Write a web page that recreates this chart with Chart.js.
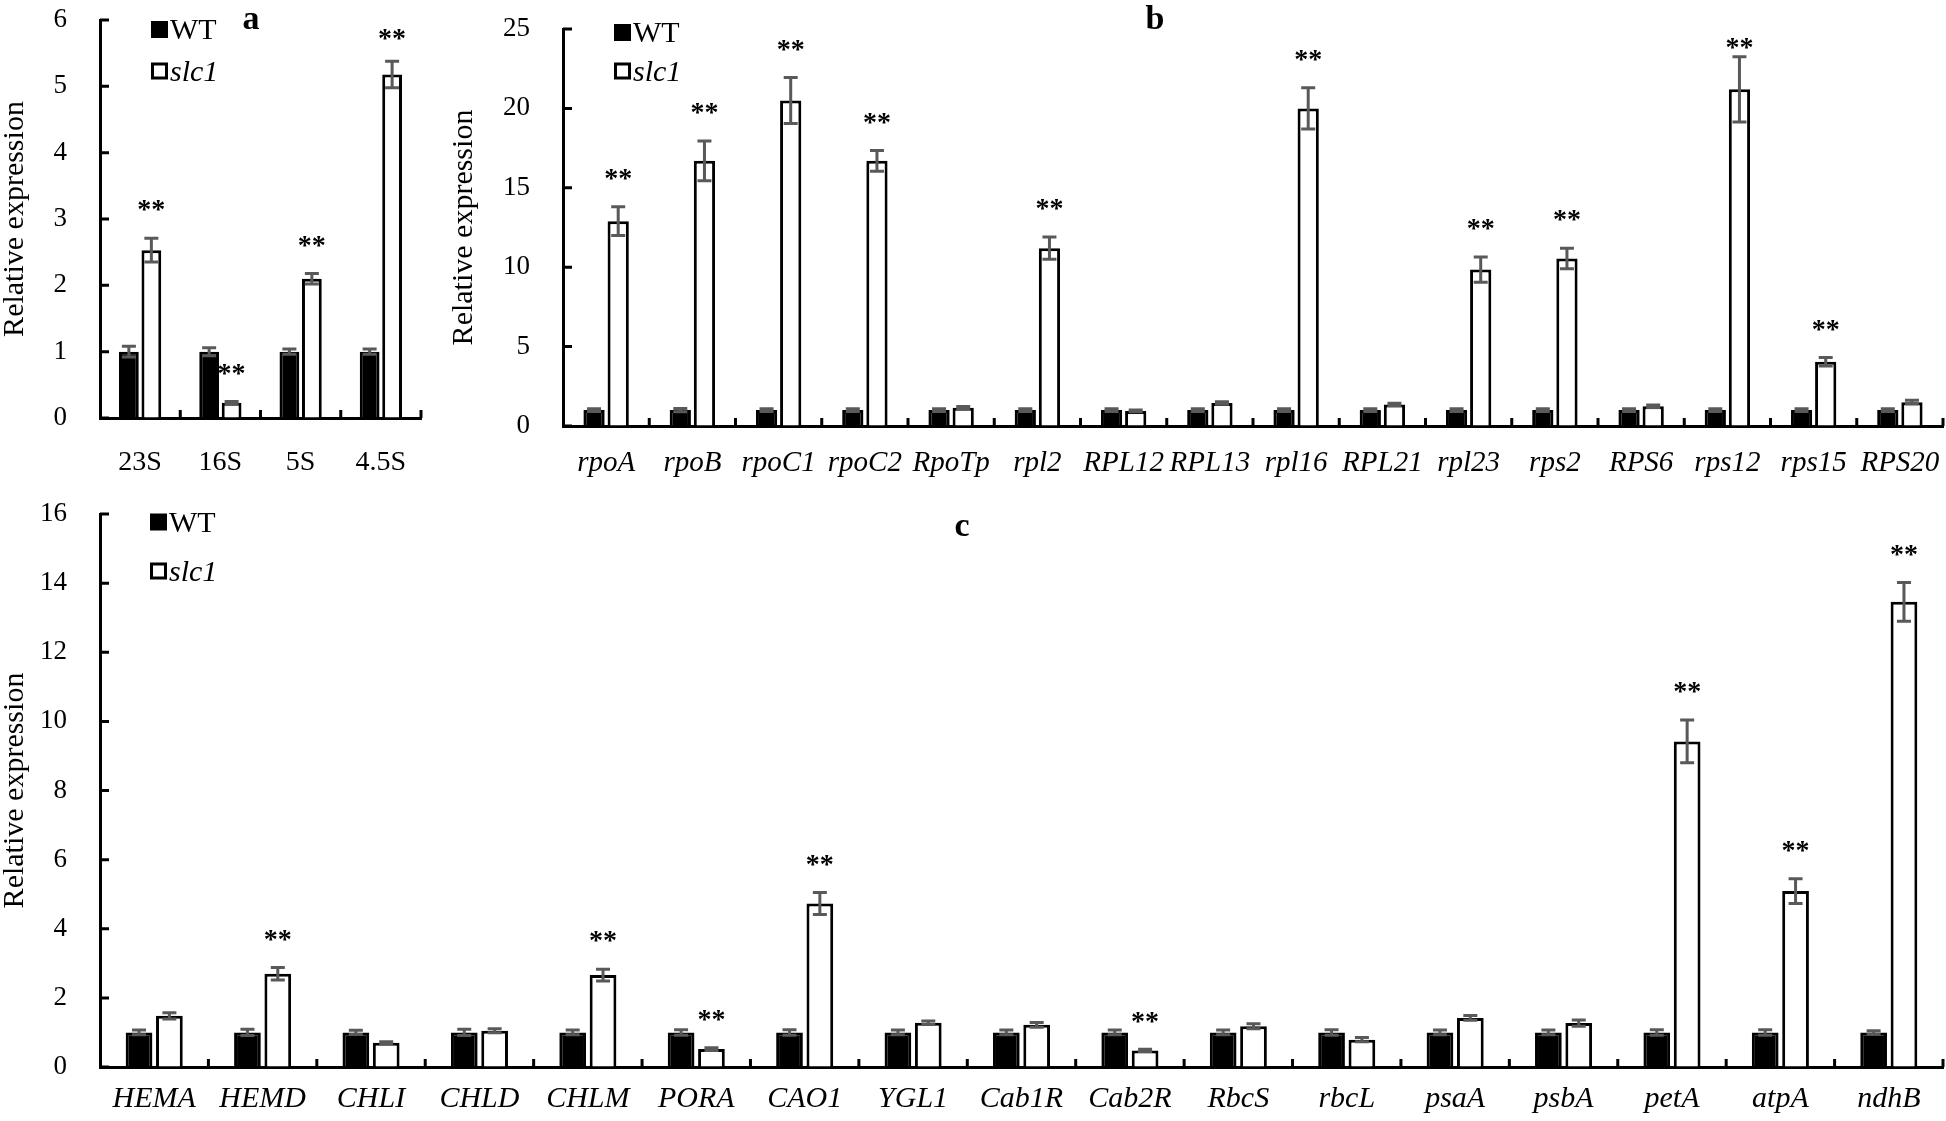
<!DOCTYPE html>
<html>
<head>
<meta charset="utf-8">
<script src="https://cdn.jsdelivr.net/npm/chart.js@4.4.0/dist/chart.umd.min.js"></script>
<style>
  html, body { margin: 0; padding: 0; background: #fff; overflow: hidden; width: 1946px; height: 1121px; }
  canvas { position: absolute; }
</style>
</head>
<body>
<canvas id="chartA" width="440" height="490" style="left:0px;top:0px"></canvas>
<canvas id="chartB" width="1520" height="490" style="left:440px;top:0px"></canvas>
<canvas id="chartC" width="1960" height="631" style="left:0px;top:490px"></canvas>
<script>
// panel a - rRNA
const aGenes = ['23S', '16S', '5S', '4.5S'];
const aWT = [1, 1, 1, 1];
const aWTErr = [0.08, 0.06, 0.04, 0.04];
const aSlc1 = [2.53, 0.23, 2.1, 5.18];
const aSlc1Err = [0.18, 0.02, 0.08, 0.2];
const aSig = [1, 1, 1, 1];

// panel b - transcription / ribosomal genes
const bGenes = ['rpoA', 'rpoB', 'rpoC1', 'rpoC2', 'RpoTp', 'rpl2', 'RPL12', 'RPL13', 'rpl16', 'RPL21', 'rpl23', 'rps2', 'RPS6', 'rps12', 'rps15', 'RPS20'];
const bWT = [1, 1, 1, 1, 1, 1, 1, 1, 1, 1, 1, 1, 1, 1, 1, 1];
const bWTErr = [0.08, 0.1, 0.08, 0.08, 0.08, 0.08, 0.08, 0.08, 0.08, 0.08, 0.08, 0.08, 0.08, 0.08, 0.08, 0.08];
const bSlc1 = [12.9, 16.7, 20.5, 16.7, 1.15, 11.2, 0.95, 1.45, 20.0, 1.35, 9.85, 10.55, 1.25, 21.2, 4.05, 1.5];
const bSlc1Err = [0.9, 1.25, 1.45, 0.65, 0.08, 0.7, 0.06, 0.08, 1.3, 0.08, 0.8, 0.65, 0.08, 2.05, 0.27, 0.12];
const bSig = [1, 1, 1, 1, 0, 1, 0, 0, 1, 0, 1, 1, 0, 1, 1, 0];

// panel c - chlorophyll / photosynthesis genes
const cGenes = ['HEMA', 'HEMD', 'CHLI', 'CHLD', 'CHLM', 'PORA', 'CAO1', 'YGL1', 'Cab1R', 'Cab2R', 'RbcS', 'rbcL', 'psaA', 'psbA', 'petA', 'atpA', 'ndhB'];
const cWT = [1, 1, 1, 1, 1, 1, 1, 1, 1, 1, 1, 1, 1, 1, 1, 1, 1];
const cWTErr = [0.07, 0.09, 0.06, 0.09, 0.07, 0.08, 0.08, 0.07, 0.07, 0.07, 0.07, 0.08, 0.07, 0.07, 0.08, 0.08, 0.05];
const cSlc1 = [1.48, 2.7, 0.7, 1.05, 2.66, 0.52, 4.73, 1.28, 1.22, 0.48, 1.18, 0.79, 1.42, 1.27, 9.42, 5.09, 13.46];
const cSlc1Err = [0.09, 0.18, 0.03, 0.06, 0.17, 0.04, 0.32, 0.05, 0.07, 0.03, 0.07, 0.06, 0.07, 0.09, 0.62, 0.36, 0.56];
const cSig = [0, 1, 0, 0, 1, 1, 1, 0, 0, 1, 0, 0, 0, 0, 1, 1, 1];

const serif = '"Liberation Serif", "Times New Roman", serif';

// error bars, stars, inner ticks, legend and panel letter
const decor = {
  id: 'decor',
  afterDatasetsDraw(chart, args, o) {
    const ctx = chart.ctx, y = chart.scales.y, area = chart.chartArea;
    ctx.save();
    ctx.strokeStyle = '#595959';
    ctx.lineWidth = 3;
    o.errs.forEach((errs, di) => {
      const vals = chart.data.datasets[di].data;
      chart.getDatasetMeta(di).data.forEach((bar, i) => {
        const t = y.getPixelForValue(vals[i] + errs[i]);
        const b = y.getPixelForValue(vals[i] - errs[i]);
        ctx.beginPath();
        ctx.moveTo(bar.x, t); ctx.lineTo(bar.x, b);
        ctx.moveTo(bar.x - 7, t); ctx.lineTo(bar.x + 7, t);
        ctx.moveTo(bar.x - 7, b); ctx.lineTo(bar.x + 7, b);
        ctx.stroke();
      });
    });
    // significance stars
    ctx.fillStyle = '#000';
    ctx.font = 'bold 28px ' + serif;
    ctx.textAlign = 'center';
    ctx.textBaseline = 'middle';
    const vals = chart.data.datasets[1].data;
    chart.getDatasetMeta(1).data.forEach((bar, i) => {
      if (!o.sig[i]) return;
      let sy = y.getPixelForValue(vals[i] + o.errs[1][i]) - 27;
      sy = Math.max(sy, area.top + 20);
      ctx.fillText('**', bar.x, sy);
    });
    ctx.restore();
  },
  afterDraw(chart, args, o) {
    const ctx = chart.ctx, x = chart.scales.x, y = chart.scales.y, area = chart.chartArea;
    ctx.save();
    ctx.strokeStyle = '#000';
    ctx.lineWidth = 3;
    ctx.beginPath();
    y.ticks.forEach(t => {
      const py = y.getPixelForValue(t.value);
      ctx.moveTo(area.left, py); ctx.lineTo(area.left + 9, py);
    });
    const n = chart.data.labels.length;
    for (let i = 1; i <= n; i++) {
      const px = x.getPixelForDecimal(i / n);
      ctx.moveTo(px, area.bottom); ctx.lineTo(px, area.bottom - 8);
    }
    ctx.stroke();

    // legend
    const lx = area.left + o.legend.dx;
    const rows = [area.top + o.legend.dy, area.top + o.legend.dy + o.legend.gap];
    const s = 17;
    ctx.fillStyle = '#000';
    ctx.fillRect(lx, rows[0] - s / 2, s, s);
    ctx.lineWidth = 3;
    ctx.strokeRect(lx + 1.5, rows[1] - s / 2 + 1.5, s - 3, s - 3);
    ctx.textAlign = 'left';
    ctx.textBaseline = 'middle';
    ctx.font = '30px ' + serif;
    ctx.fillText('WT', lx + s + 2, rows[0] + 2);
    ctx.font = 'italic 30px ' + serif;
    ctx.fillText('slc1', lx + s + 2, rows[1] + 2);

    // panel letter
    ctx.font = 'bold 34px ' + serif;
    ctx.textAlign = 'center';
    ctx.fillText(o.letter.text, o.letter.x, o.letter.y);
    ctx.restore();
  }
};

// invisible tick marks: they only push the labels away from the axis
const hiddenTicks = len => ({
  display: true, drawOnChartArea: false, drawTicks: true,
  tickLength: len, color: 'rgba(0,0,0,0)'
});

function makeChart(id, labels, wt, wtErr, slc, slcErr, sig, p) {
  return new Chart(document.getElementById(id), {
    type: 'bar',
    data: {
      labels: labels,
      datasets: [
        { label: 'WT', data: wt, backgroundColor: '#000', borderColor: '#000', borderWidth: 3 },
        { label: 'slc1', data: slc, backgroundColor: '#fff', borderColor: '#000', borderWidth: 3 }
      ]
    },
    options: {
      responsive: false,
      animation: false,
      events: [],
      categoryPercentage: 0.56,
      barPercentage: 0.88,
      layout: { padding: p.pad },
      scales: {
        x: {
          offset: true,
          grid: hiddenTicks(p.xGap),
          border: { display: true, color: '#000', width: 3 },
          ticks: {
            autoSkip: false, maxRotation: 0, padding: 0, color: '#000',
            font: { family: serif, size: p.xFont, style: p.xStyle }
          },
          afterFit: s => { s.height = p.xH; }
        },
        y: {
          min: 0, max: p.max,
          grid: hiddenTicks(33),
          border: { display: true, color: '#000', width: 3 },
          ticks: { stepSize: p.step, padding: 0, color: '#000', font: { family: serif, size: 27 } },
          title: {
            display: true, text: 'Relative expression', color: '#000',
            padding: 0, font: { family: serif, size: 30, lineHeight: 1 }
          },
          afterFit: s => { s.width = p.yW; }
        }
      },
      plugins: {
        legend: { display: false },
        tooltip: { enabled: false },
        decor: { errs: [wtErr, slcErr], sig: sig, legend: p.legend, letter: p.letter }
      }
    },
    plugins: [decor]
  });
}

makeChart('chartA', aGenes, aWT, aWTErr, aSlc1, aSlc1Err, aSig, {
  pad: { left: 0, top: 20, right: 19, bottom: 0 }, yW: 100, xH: 72, xGap: 28,
  max: 6, step: 1, xFont: 28, xStyle: 'normal',
  legend: { dx: 51, dy: 9.5, gap: 41.5 },
  letter: { text: 'a', x: 251, y: 20 }
});

makeChart('chartB', bGenes, bWT, bWTErr, bSlc1, bSlc1Err, bSig, {
  pad: { left: 9, top: 29, right: 17, bottom: 0 }, yW: 114, xH: 64, xGap: 20,
  max: 25, step: 5, xFont: 29, xStyle: 'italic',
  legend: { dx: 51, dy: 3.5, gap: 38.5 },
  letter: { text: 'b', x: 715, y: 20 }
});

makeChart('chartC', cGenes, cWT, cWTErr, cSlc1, cSlc1Err, cSig, {
  pad: { left: 0, top: 24, right: 17, bottom: 0 }, yW: 100, xH: 54, xGap: 14,
  max: 16, step: 2, xFont: 30, xStyle: 'italic',
  legend: { dx: 50, dy: 8, gap: 49 },
  letter: { text: 'c', x: 962, y: 37 }
});
</script>
</body>
</html>
